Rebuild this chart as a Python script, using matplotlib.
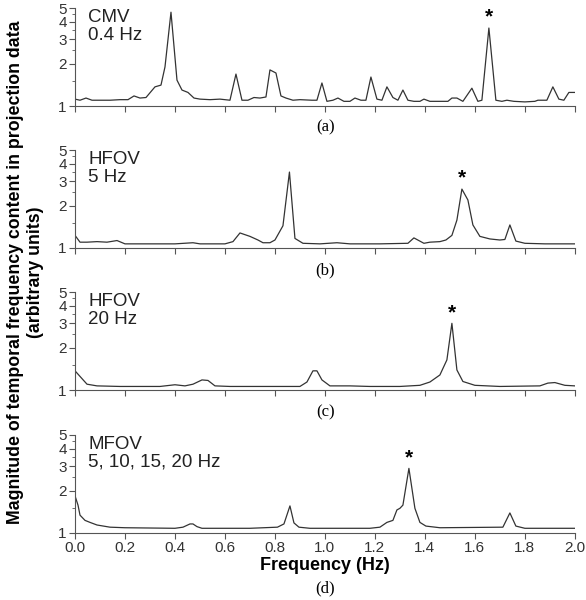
#!/usr/bin/env python
# -*- coding: utf8 -*-

"""Temporal frequency content of projection data, four ventilation modes"""

import matplotlib
matplotlib.use("Agg")
import matplotlib.pyplot as plt
from matplotlib.ticker import FixedLocator, FixedFormatter, NullFormatter

# (a) CMV 0.4 Hz
freq_a = [0.000, 0.020, 0.044, 0.068, 0.100, 0.140, 0.180, 0.212, 0.236, 0.260,
          0.284, 0.320, 0.344, 0.360, 0.384, 0.408, 0.428, 0.452, 0.476, 0.500,
          0.540, 0.580, 0.620, 0.644, 0.668, 0.692, 0.716, 0.740, 0.764, 0.780,
          0.804, 0.824, 0.844, 0.872, 0.900, 0.948, 0.968, 0.988, 1.008, 1.032,
          1.052, 1.076, 1.100, 1.120, 1.144, 1.164, 1.184, 1.208, 1.228, 1.248,
          1.272, 1.292, 1.312, 1.332, 1.356, 1.380, 1.396, 1.420, 1.460, 1.492,
          1.508, 1.528, 1.552, 1.588, 1.612, 1.628, 1.656, 1.684, 1.708, 1.728,
          1.756, 1.800, 1.840, 1.852, 1.888, 1.912, 1.936, 1.956, 1.976, 2.000]
mag_a = [1.12, 1.10, 1.14, 1.10, 1.10, 1.10, 1.11, 1.11, 1.18, 1.14,
         1.15, 1.37, 1.41, 1.90, 4.67, 1.53, 1.30, 1.25, 1.14, 1.12,
         1.11, 1.12, 1.10, 1.69, 1.10, 1.10, 1.15, 1.14, 1.16, 1.81,
         1.72, 1.18, 1.14, 1.10, 1.11, 1.10, 1.10, 1.46, 1.08, 1.10,
         1.14, 1.08, 1.08, 1.14, 1.10, 1.10, 1.61, 1.12, 1.10, 1.37,
         1.15, 1.10, 1.30, 1.10, 1.08, 1.08, 1.12, 1.08, 1.08, 1.08,
         1.14, 1.14, 1.08, 1.34, 1.08, 1.10, 3.60, 1.10, 1.08, 1.10,
         1.08, 1.07, 1.08, 1.10, 1.10, 1.37, 1.12, 1.10, 1.25, 1.25]

# (b) HFOV 5 Hz
freq_b = [0.000, 0.020, 0.048, 0.088, 0.128, 0.168, 0.200, 0.300, 0.400, 0.472,
          0.500, 0.600, 0.632, 0.660, 0.700, 0.732, 0.752, 0.780, 0.800, 0.832,
          0.858, 0.880, 0.912, 0.980, 1.048, 1.100, 1.220, 1.332, 1.356, 1.396,
          1.420, 1.460, 1.484, 1.508, 1.528, 1.548, 1.572, 1.592, 1.620, 1.660,
          1.700, 1.720, 1.740, 1.764, 1.800, 1.880, 2.000]
mag_b = [1.23, 1.10, 1.10, 1.11, 1.10, 1.13, 1.07, 1.07, 1.07, 1.09,
         1.07, 1.07, 1.11, 1.28, 1.21, 1.14, 1.09, 1.09, 1.14, 1.44,
         3.48, 1.17, 1.08, 1.07, 1.09, 1.07, 1.07, 1.08, 1.18, 1.08,
         1.10, 1.11, 1.14, 1.23, 1.58, 2.63, 2.20, 1.46, 1.21, 1.16,
         1.14, 1.15, 1.46, 1.12, 1.08, 1.07, 1.07]

# (c) HFOV 20 Hz
freq_c = [0.000, 0.048, 0.088, 0.180, 0.340, 0.400, 0.440, 0.472, 0.508, 0.532,
          0.560, 0.620, 0.900, 0.928, 0.952, 0.968, 0.988, 1.020, 1.100, 1.180,
          1.300, 1.380, 1.420, 1.460, 1.488, 1.508, 1.528, 1.552, 1.600, 1.700,
          1.860, 1.892, 1.920, 1.960, 2.000]
mag_c = [1.37, 1.10, 1.07, 1.06, 1.06, 1.09, 1.07, 1.10, 1.18, 1.17,
         1.07, 1.06, 1.06, 1.14, 1.37, 1.37, 1.18, 1.07, 1.07, 1.06,
         1.06, 1.08, 1.14, 1.28, 1.64, 2.99, 1.39, 1.15, 1.08, 1.06,
         1.07, 1.12, 1.13, 1.08, 1.07]

# (d) MFOV 5, 10, 15, 20 Hz
freq_d = [0.000, 0.012, 0.020, 0.040, 0.060, 0.088, 0.140, 0.200, 0.400, 0.432,
          0.460, 0.472, 0.488, 0.508, 0.700, 0.810, 0.836, 0.860, 0.876, 0.896,
          0.940, 1.180, 1.220, 1.248, 1.272, 1.288, 1.300, 1.312, 1.336, 1.360,
          1.380, 1.404, 1.460, 1.712, 1.740, 1.764, 1.800, 2.000]
mag_d = [1.84, 1.58, 1.34, 1.23, 1.19, 1.14, 1.10, 1.09, 1.08, 1.10,
         1.16, 1.16, 1.11, 1.08, 1.08, 1.10, 1.16, 1.56, 1.18, 1.10,
         1.08, 1.08, 1.10, 1.19, 1.23, 1.46, 1.50, 1.58, 2.89, 1.50,
         1.19, 1.12, 1.09, 1.10, 1.39, 1.12, 1.08, 1.08]

mode_labels = ["CMV\n0.4 Hz", "HFOV\n5 Hz", "HFOV\n20 Hz", "MFOV\n5, 10, 15, 20 Hz"]
panel_letters = ["(a)", "(b)", "(c)", "(d)"]
starred_peaks = [(1.656, 3.60), (1.548, 2.63), (1.508, 2.99), (1.336, 2.89)]


def main() -> None:
    """Do the job"""
    plt.rcParams['font.family'] = ['Liberation Sans', 'DejaVu Sans']
    fig = plt.figure(figsize=(5.86, 6.0), dpi=100)

    series = [(freq_a, mag_a), (freq_b, mag_b), (freq_c, mag_c), (freq_d, mag_d)]
    bottoms = [0.8233, 0.5867, 0.35, 0.1117]
    letter_y = [0.787, 0.550, 0.313, 0.020]

    for i, ((f, m), bot) in enumerate(zip(series, bottoms)):
        ax = fig.add_axes([0.128, bot, 0.853, 0.1633])
        ax.plot(f, m, color="#333333", lw=0.9)
        ax.set_yscale("log")
        ax.set_ylim(1, 5)
        ax.set_xlim(0, 2)
        ax.yaxis.set_major_locator(FixedLocator([1, 2, 3, 4, 5]))
        ax.yaxis.set_major_formatter(FixedFormatter(["1", "2", "3", "4", "5"]))
        ax.yaxis.set_minor_locator(FixedLocator([1.5, 2.5, 3.5, 4.5]))
        ax.yaxis.set_minor_formatter(NullFormatter())
        ax.set_xticks([0.0, 0.2, 0.4, 0.6, 0.8, 1.0, 1.2, 1.4, 1.6, 1.8, 2.0])
        for s in ("top", "right"):
            ax.spines[s].set_visible(False)
        for s in ("left", "bottom"):
            ax.spines[s].set_color("#555555")
            ax.spines[s].set_linewidth(0.8)
        ax.tick_params(axis="both", which="major", length=4, width=0.8,
                       color="#555555", labelsize=11, labelcolor="#333333", pad=2)
        ax.tick_params(axis="y", which="minor", length=2.5, width=0.6, color="#555555")
        if i < 3:
            ax.tick_params(axis="x", labelbottom=False)
        else:
            ax.set_xticklabels([f"{v:.1f}" for v in ax.get_xticks()])
            ax.set_xlabel("Frequency (Hz)", fontsize=13, fontweight="bold", labelpad=1)
        ax.text(0.026, 0.99, mode_labels[i], transform=ax.transAxes, ha="left", va="top",
                fontsize=13.5, linespacing=1.05, color="#222222")
        px, pv = starred_peaks[i]
        ax.annotate("*", xy=(px, pv), xytext=(0, 1), textcoords="offset points",
                    ha="center", va="bottom", fontsize=15, fontweight="bold",
                    annotation_clip=False)
        fig.text(0.555, letter_y[i], panel_letters[i], ha="center", va="center",
                 fontsize=12, family=["Liberation Serif", "DejaVu Serif"])

    fig.text(0.044, 0.547,
             "Magnitude of temporal frequency content in projection data\n(arbitrary units)",
             rotation=90, ha="center", va="center", fontsize=12.8, fontweight="bold",
             linespacing=1.2)

    fig.savefig("out.png", dpi=100)


if __name__ == "__main__":
    main()
